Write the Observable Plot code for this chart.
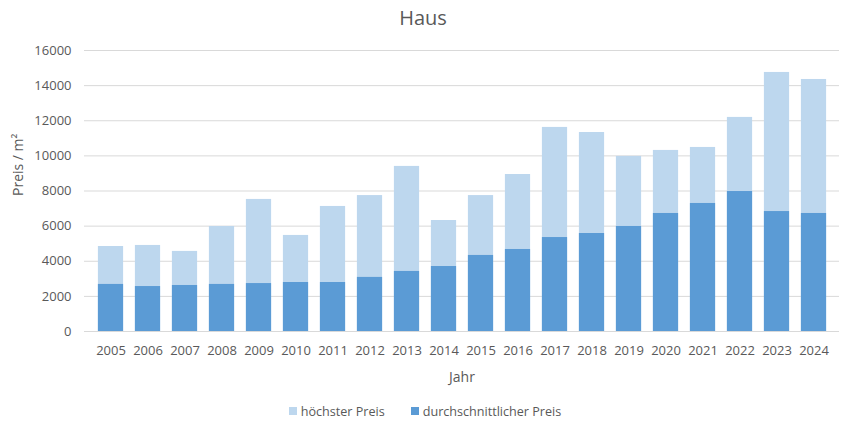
<!DOCTYPE html>
<html>
<head>
<meta charset="utf-8">
<script src="https://cdn.jsdelivr.net/npm/d3@7"></script>
<script src="https://cdn.jsdelivr.net/npm/@observablehq/plot@0.6"></script>
<style>
  body { margin: 0; background: #fff; font-family: "Open Sans", sans-serif; color: #595959; }
  #wrap { width: 846px; height: 432px; position: relative; }
  #title { height: 36px; line-height: 35px; text-align: center; font-size: 20px; color: #595959; }
  #legend { height: 42px; display: flex; justify-content: center; align-items: center; gap: 26px; font-size: 12.6px; color: #595959; padding-left: 4px; }
  .item { display: flex; align-items: center; gap: 4px; }
  .sw { width: 8px; height: 8px; display: inline-block; }
</style>
</head>
<body>
<div id="wrap">
  <div id="title">Haus</div>
  <div id="chart"></div>
  <div id="legend"></div>
</div>
<script>
const years = ["2005","2006","2007","2008","2009","2010","2011","2012","2013","2014","2015","2016","2017","2018","2019","2020","2021","2022","2023","2024"];
const hoechsterPreis = [4840,4900,4560,5980,7520,5470,7120,7740,9400,6320,7740,8940,11620,11330,9970,10310,10480,12190,14750,14350];
const durchschnittPreis = [2680,2560,2620,2680,2730,2790,2790,3080,3420,3700,4330,4670,5350,5580,5980,6720,7290,7970,6830,6720];
const yTicks = [0,2000,4000,6000,8000,10000,12000,14000,16000];
const seriesNames = ["höchster Preis","durchschnittlicher Preis"];
const seriesColors = ["#BDD7EE","#5B9BD5"];
const xTitle = "Jahr";
const yTitle = "Preis / m²";

const high = years.map((y,i) => ({year: y, value: hoechsterPreis[i]}));
const avg = years.map((y,i) => ({year: y, value: durchschnittPreis[i]}));

const inset = 5.9;
const plot = Plot.plot({
  width: 846,
  height: 354,
  marginLeft: 84,
  marginRight: 7,
  marginTop: 14,
  marginBottom: 59,
  style: {fontFamily: "Open Sans, sans-serif", fontSize: "13px", color: "#595959", background: "#fff"},
  x: {domain: years, padding: 0, label: null},
  y: {domain: [0,16000], label: null},
  marks: [
    Plot.gridY(yTicks, {stroke: "#D9D9D9", strokeOpacity: 1}),
    Plot.barY(high, {x: "year", y: "value", fill: seriesColors[0], insetLeft: inset, insetRight: inset}),
    Plot.barY(avg, {x: "year", y: "value", fill: seriesColors[1], insetLeft: inset, insetRight: inset}),
    Plot.ruleY([0], {stroke: "#D9D9D9"}),
    Plot.axisX({tickSize: 0, tickPadding: 14, label: null, fontSize: 13}),
    Plot.axisY(yTicks, {tickSize: 0, tickPadding: 13, label: null, fontSize: 13, tickFormat: d => String(d)}),
    Plot.text([yTitle], {frameAnchor: "left", dx: -66, dy: 5, rotate: -90, fontSize: 14, fill: "#595959"}),
    Plot.text([xTitle], {frameAnchor: "bottom", dy: 50, fontSize: 14, fill: "#595959"})
  ]
});
document.getElementById("chart").appendChild(plot);

const legend = document.getElementById("legend");
seriesNames.forEach((n,i) => {
  const it = document.createElement("div");
  it.className = "item";
  const sw = document.createElement("span");
  sw.className = "sw";
  sw.style.background = seriesColors[i];
  const t = document.createElement("span");
  t.textContent = n;
  it.appendChild(sw); it.appendChild(t);
  legend.appendChild(it);
});
</script>
</body>
</html>
